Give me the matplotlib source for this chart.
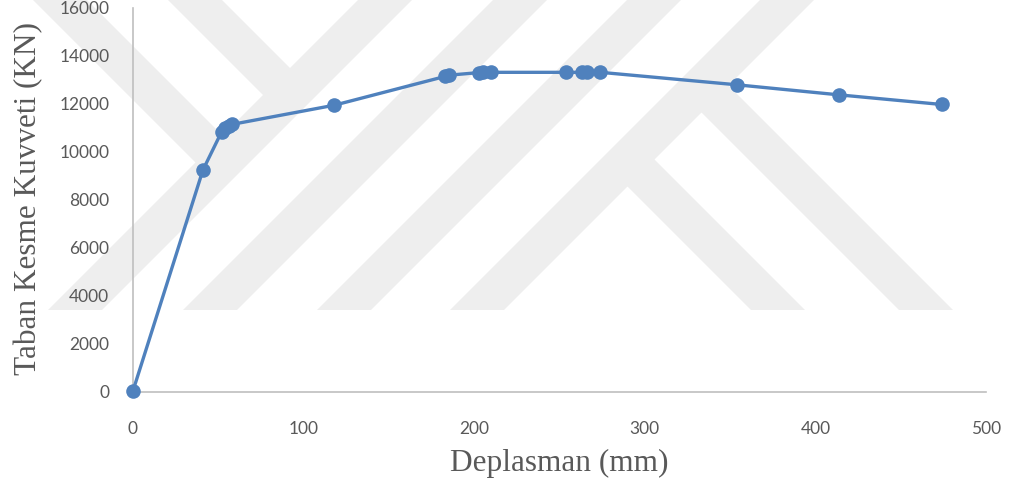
import matplotlib
matplotlib.use("Agg")
import matplotlib.pyplot as plt
from matplotlib.patches import Polygon

# Base shear vs. displacement (pushover curve)
deplasman = [0, 41, 52, 54, 56, 58, 118, 183, 185, 203, 205, 210,
             254, 263, 266, 274, 354, 414, 474]
taban_kesme = [50, 9250, 10850, 11000, 11100, 11150, 11950, 13150, 13200,
               13310, 13320, 13320, 13320, 13320, 13320, 13320, 12800,
               12380, 11980]

x_ticks = [0, 100, 200, 300, 400, 500]
y_ticks = [0, 2000, 4000, 6000, 8000, 10000, 12000, 14000, 16000]

W, H = 1010, 482
fig = plt.figure(figsize=(W / 100, H / 100), dpi=100)
fig.patch.set_facecolor("white")

# light background emblem made of diagonal stripes (pixel coords, y down)
wm_color = "#EEEEEE"
bw = 54          # stripe width
base = 310       # bottom edge of the emblem


def fig_pts(pts):
    return [(x / W, 1 - y / H) for x, y in pts]


def add_poly(pts):
    fig.add_artist(Polygon(fig_pts(pts), closed=True, facecolor=wm_color,
                           edgecolor="none", transform=fig.transFigure,
                           zorder=-5))


def rising(x0):
    # "/" stripe whose left edge starts at (x0, base)
    add_poly([(x0, base), (x0 + bw, base), (x0 + bw + base, 0), (x0 + base, 0)])


def meet(a, b):
    # "\" edge x = a + y meets "/" centre line x = b - y
    y = (b - a) / 2
    return (a + y, y)


def falling_from_top(c0, x_rise):
    b = x_rise + bw / 2 + base
    l, r = c0 - bw / 2, c0 + bw / 2
    add_poly([(l, 0), (r, 0), meet(r, b), meet(l, b)])


def falling_to_base(x_bottom, x_rise):
    b = x_rise + bw / 2 + base
    l = x_bottom - base
    r = x_bottom + bw - base
    add_poly([meet(l, b), meet(r, b), (x_bottom + bw, base), (x_bottom, base)])


rise_edges = [48, 183, 317, 450]
for xr in rise_edges:
    rising(xr)
falling_from_top(60, 48)
falling_from_top(195, 48)
falling_to_base(751, 450)
falling_to_base(899, 450)

ax = fig.add_axes([133 / W, 1 - 392 / H, (986 - 133) / W, (392 - 8) / H])
ax.set_facecolor("none")

line_color = "#4F81BD"
ax.plot(deplasman, taban_kesme, color=line_color, linewidth=2.4,
        marker="o", markersize=10.5, markeredgewidth=0,
        clip_on=False, zorder=3)

ax.set_xlim(0, 500)
ax.set_ylim(0, 16000)
ax.set_xticks(x_ticks)
ax.set_yticks(y_ticks)
ax.set_xticklabels([str(v) for v in x_ticks])
ax.set_yticklabels([str(v) for v in y_ticks])

for side in ("top", "right"):
    ax.spines[side].set_visible(False)
for side in ("left", "bottom"):
    ax.spines[side].set_color("#BFBFBF")
    ax.spines[side].set_linewidth(1.2)

tick_color = "#595959"
ax.tick_params(axis="both", length=0, labelsize=12.5, labelcolor=tick_color)
ax.tick_params(axis="x", pad=21)
ax.tick_params(axis="y", pad=17)
for lab in ax.get_xticklabels() + ax.get_yticklabels():
    lab.set_family("Lato")

title_font = dict(family="Liberation Serif", size=22.5, color=tick_color)
ax.set_xlabel("Deplasman (mm)", va="center", **title_font)
ax.xaxis.set_label_coords(0.5, -0.185)
ax.set_ylabel("Taban Kesme Kuvveti (KN)", va="center", **title_font)
ax.yaxis.set_label_coords(-0.123, 0.505)

fig.savefig("out.png", dpi=100, facecolor="white")
